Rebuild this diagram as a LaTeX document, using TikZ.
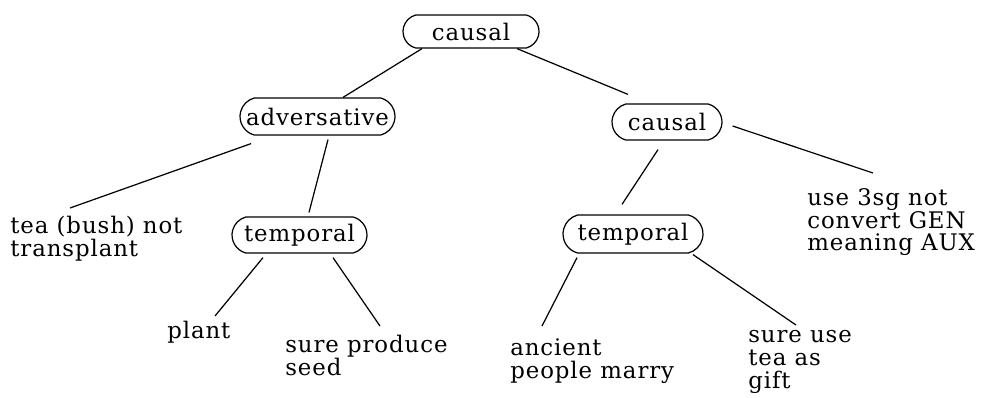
\documentclass[tikz,border=0pt]{standalone}
\usepackage{fontspec}
\setmainfont{DejaVu Serif}[LetterSpace=4]
\usepackage{tikz}
\usetikzlibrary{shapes.misc}
\tikzstyle{relation} = [draw, line width=0.7pt, rounded rectangle, rounded rectangle arc length=150, minimum height=0.72cm, inner sep=0pt]
\tikzstyle{leaf} = [anchor=north west, align=left, inner sep=0pt]
\tikzstyle{link} = [line width=0.7pt]

\begin{document}
\begin{tikzpicture}[x=0.02cm, y=-0.02cm, font=\fontsize{13pt}{13pt}\selectfont]
	\useasboundingbox (0,0) rectangle (986,397);
	\node[relation, minimum width=2.72cm, minimum height=0.66cm] (root) at (471,31.5) {causal};
	\node[relation, minimum width=3.1cm, minimum height=0.74cm] (adv) at (317.5,116.5) {adversative};
	\node[relation, minimum width=2.2cm] (rc) at (667,122) {causal};
	\node[relation, minimum width=2.7cm] (ltemp) at (299.5,235) {temporal};
	\node[relation, minimum width=2.8cm, minimum height=0.76cm] (rtemp) at (633,234) {temporal};
	\node[leaf] (tea) at (10,216) {tea (bush) not\\transplant};
	\node[leaf] (use) at (807,188) {use 3sg not\\convert GEN\\meaning AUX};
	\node[leaf] (plant) at (167,321) {plant};
	\node[leaf] (produce) at (285,335) {sure produce\\seed};
	\node[leaf] (ancient) at (510,338) {ancient\\people marry};
	\node[leaf] (sureuse) at (748,330) {sure use\\tea as\\gift};
	\draw[link] ([xshift=-0.98cm]root.south) -- ([xshift=0.51cm]adv.north);
	\draw[link] ([xshift=0.92cm]root.south) -- ([xshift=-0.78cm, yshift=0.18cm]rc.north);
	\draw[link] ([xshift=-1.33cm, yshift=-0.16cm]adv.south) -- ([xshift=1.2cm, yshift=0.16cm]tea.north west);
	\draw[link] ([xshift=0.21cm, yshift=-0.08cm]adv.south) -- ([xshift=0.19cm, yshift=0.08cm]ltemp.north);
	\draw[link] ([xshift=-0.18cm, yshift=-0.18cm]rc.south) -- ([xshift=-0.22cm, yshift=0.2cm]rtemp.north);
	\draw[link] ([xshift=0.2cm, yshift=-0.08cm]rc.east) -- ([xshift=1.32cm, yshift=0.3cm]use.north west);
	\draw[link] ([xshift=-0.73cm, yshift=-0.08cm]ltemp.south) -- ([xshift=0.96cm, yshift=0.1cm]plant.north west);
	\draw[link] ([xshift=0.67cm, yshift=-0.08cm]ltemp.south) -- ([xshift=1.9cm, yshift=0.18cm]produce.north west);
	\draw[link] ([xshift=-1.12cm, yshift=-0.08cm]rtemp.south) -- ([xshift=0.64cm, yshift=0.24cm]ancient.north west);
	\draw[link] ([xshift=1.2cm, yshift=-0.02cm]rtemp.south) -- ([xshift=0.96cm, yshift=0.1cm]sureuse.north west);
\end{tikzpicture}
\end{document}
